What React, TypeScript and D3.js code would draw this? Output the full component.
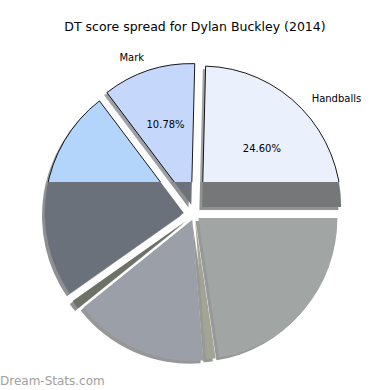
import React from "react";
import * as d3 from "d3";

// slice values, counter-clockwise from 3 o'clock (matplotlib style)
const labels = ["Handballs", "Mark", "", "", "", "", ""];
const shares = [24.6, 10.78, 24.3, 1.0, 15.6, 1.1, 22.62];
const showPct = [true, true, false, false, false, false, false];
const topColors = ["#eaf1fd", "#c5d8fc", "#b3d5fc", "#6c7266", "#9b9fa7", "#a2a593", "#a1a6a5"];
const lowColors = ["#767778", "#6c717a", "#6b717b", "#6c7266", "#9b9fa7", "#a2a593", "#a1a6a5"];
const explode = [0.077, 0.075, 0.078, 0.07, 0.04, 0.03, 0.037];

const title = "DT score spread for Dylan Buckley (2014)";
const watermark = "Dream-Stats.com";

const W = 390;
const H = 390;
const cx = 194.5;
const cy = 214.7;
const rx = 139;
const ry = 141;
const splitY = 182; // lower part of the picture is rendered in greys

const font = "DejaVu Sans, sans-serif";

const App = () => {
  const pie = d3
    .pie<number>()
    .sort(null)
    .startAngle(0)
    .endAngle(2 * Math.PI)(shares);

  const arc = d3.arc<any>();
  const fmt = d3.format(".2f");

  const slices = pie.map((p, i) => {
    // p.startAngle / endAngle used as ccw angle from east
    const t0 = p.startAngle;
    const t1 = p.endAngle;
    const mid = (t0 + t1) / 2;
    const ax = cx + explode[i] * rx * Math.cos(mid);
    const ay = cy - explode[i] * ry * Math.sin(mid);
    const d = arc({
      innerRadius: 0,
      outerRadius: 1,
      startAngle: Math.PI / 2 - t1,
      endAngle: Math.PI / 2 - t0,
    }) as string;
    return { i, mid, ax, ay, d };
  });

  const shade = (c: string) => {
    const k = d3.rgb(c);
    return d3.rgb(k.r * 0.3, k.g * 0.3, k.b * 0.3).toString();
  };

  const layer = (colors: string[], stroke: boolean) => (
    <>
      {slices.map((s) => (
        <path
          key={"sh" + s.i}
          d={s.d}
          transform={`translate(${s.ax - 0.02 * rx},${s.ay + 0.02 * ry}) scale(${rx},${ry})`}
          fill={shade(colors[s.i])}
          opacity={0.5}
        />
      ))}
      {slices.map((s) => (
        <path
          key={"w" + s.i}
          d={s.d}
          transform={`translate(${s.ax},${s.ay}) scale(${rx},${ry})`}
          fill={colors[s.i]}
          stroke={stroke ? "#000" : "none"}
          strokeWidth={0.9}
          vectorEffect="non-scaling-stroke"
        />
      ))}
    </>
  );

  return (
    <svg width={W} height={H} style={{ position: "absolute", left: 0, top: 0, background: "#fff" }}>
      <defs>
        <clipPath id="clipTop">
          <rect x={0} y={0} width={W} height={splitY} />
        </clipPath>
        <clipPath id="clipLow">
          <rect x={0} y={splitY} width={W} height={H - splitY} />
        </clipPath>
      </defs>
      <text x={W / 2} y={31} textAnchor="middle" fontFamily={font} fontSize={12.5} fill="#000">
        {title}
      </text>
      <g clipPath="url(#clipTop)">{layer(topColors, true)}</g>
      <g clipPath="url(#clipLow)">{layer(lowColors, false)}</g>
      {slices.map((s) => {
        if (!labels[s.i]) return null;
        const lx = s.ax + 1.1 * rx * Math.cos(s.mid);
        const ly = s.ay - 1.1 * ry * Math.sin(s.mid);
        return (
          <text
            key={"l" + s.i}
            x={lx}
            y={ly}
            dy="0.35em"
            textAnchor={Math.cos(s.mid) >= 0 ? "start" : "end"}
            fontFamily={font}
            fontSize={10}
            fill="#000"
          >
            {labels[s.i]}
          </text>
        );
      })}
      {slices.map((s) => {
        if (!showPct[s.i]) return null;
        const px = s.ax + 0.6 * rx * Math.cos(s.mid);
        const py = s.ay - 0.6 * ry * Math.sin(s.mid);
        return (
          <text
            key={"p" + s.i}
            x={px}
            y={py}
            dy="0.35em"
            textAnchor="middle"
            fontFamily={font}
            fontSize={10}
            fill="#000"
          >
            {fmt(shares[s.i]) + "%"}
          </text>
        );
      })}
      <text x={0} y={385} fontFamily={font} fontSize={12} fill="#a0a0a0">
        {watermark}
      </text>
    </svg>
  );
};

export default App;
